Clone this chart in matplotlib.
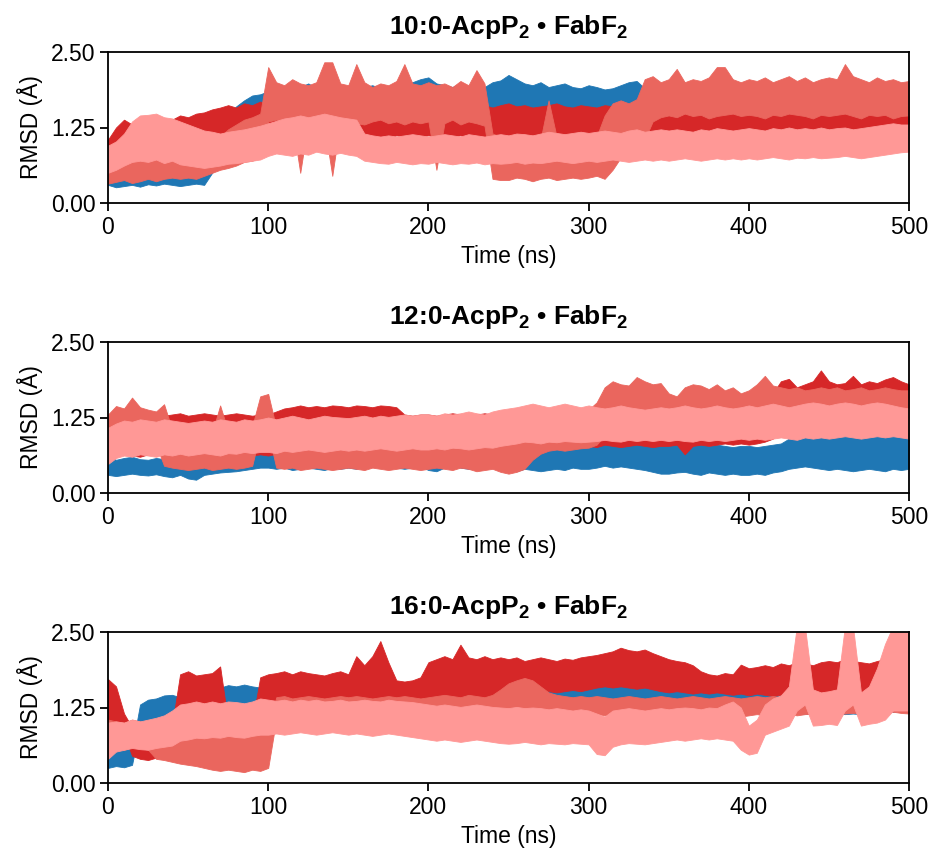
import numpy as np
import matplotlib
matplotlib.use("Agg")
import matplotlib.pyplot as plt

plt.rcParams['font.family'] = ['Liberation Sans', 'DejaVu Sans']
plt.rcParams['mathtext.fontset'] = 'custom'
plt.rcParams['mathtext.rm'] = 'Liberation Sans'
plt.rcParams['mathtext.bf'] = 'Liberation Sans:bold'

# Time axis (ns), sampled every 5 ns
time_ns = np.arange(0, 501, 5)

titles = [r"10:0-AcpP$_\mathbf{2}$ • FabF$_\mathbf{2}$",
          r"12:0-AcpP$_\mathbf{2}$ • FabF$_\mathbf{2}$",
          r"16:0-AcpP$_\mathbf{2}$ • FabF$_\mathbf{2}$"]
colors = ["#1f77b4", "#d62728", "#ea665e", "#ff9896"]
yticks = [0.0, 1.25, 2.5]
ytick_labels = ["0.00", "1.25", "2.50"]
xticks = [0, 100, 200, 300, 400, 500]

# ---- 10:0 system: lower / upper RMSD envelope of each trace (Å) ----
b1_lo = [0.30,0.26,0.28,0.30,0.27,0.31,0.29,0.32,0.30,0.28,
         0.30,0.32,0.30,0.50,0.70,0.85,0.95,1.00,1.05,1.05,
         1.15,1.20,1.15,1.18,1.20,1.15,1.12,1.18,1.15,1.20,
         1.20,1.18,1.15,1.20,1.22,1.18,1.20,1.22,1.20,1.25,
         1.22,1.20,1.18,1.22,1.20,1.25,1.22,1.20,1.18,1.20,
         1.22,1.20,1.18,1.20,1.22,1.18,1.20,1.15,1.18,1.20,
         1.18,1.20,1.22,1.18,1.15,1.20,1.18,1.22,1.20,1.18,
         1.15,1.18,1.20,1.18,1.15,1.20,1.18,1.15,1.20,1.18,
         1.15,1.20,1.18,1.15,1.20,1.18,1.22,1.18,1.20,1.15,
         1.18,1.20,1.15,1.18,1.22,1.20,1.18,1.15,1.20,1.22,
         1.20]
b1_hi = [0.55,0.62,0.58,0.65,0.70,0.62,0.72,0.66,0.70,0.75,
         0.68,0.64,0.72,1.20,1.35,1.45,1.60,1.70,1.78,1.80,
         1.85,1.90,1.88,1.95,1.92,1.98,1.90,1.88,1.92,1.85,
         1.90,1.88,1.92,1.95,1.90,1.88,1.95,1.98,2.00,2.05,
         2.08,1.98,1.95,1.92,1.98,1.90,1.95,1.92,2.00,2.03,
         2.12,2.05,1.98,1.95,2.00,1.92,1.95,1.98,1.92,1.90,
         1.95,1.92,1.88,1.90,1.95,2.00,2.02,1.90,1.85,1.88,
         1.85,1.82,1.80,1.85,1.82,1.78,1.80,1.85,1.82,1.80,
         1.82,1.85,1.88,1.92,1.90,1.85,1.80,1.82,1.80,1.85,
         1.82,1.80,1.85,1.82,1.88,1.85,1.80,1.82,1.85,1.82,
         1.80]
r1_lo = [0.62,0.78,0.85,0.88,0.90,0.92,0.90,0.95,0.98,1.00,
         1.00,1.02,1.05,1.05,1.08,1.10,1.12,1.12,1.15,1.15,
         1.10,1.12,1.08,1.10,1.12,1.10,1.08,1.12,1.10,1.08,
         1.10,1.12,1.08,1.05,1.10,1.08,1.12,1.10,1.08,1.10,
         1.12,1.10,1.08,1.10,1.12,1.08,1.10,1.05,1.08,1.10,
         1.08,1.10,1.12,1.08,1.10,1.05,1.08,1.10,1.12,1.08,
         1.10,1.08,1.05,1.08,1.10,1.12,1.08,1.10,1.05,1.08,
         1.10,1.08,1.12,1.10,1.08,1.05,1.10,1.08,1.12,1.10,
         1.08,1.10,1.05,1.08,1.10,1.12,1.08,1.10,1.05,1.08,
         1.10,1.08,1.12,1.10,1.05,1.08,1.10,1.12,1.10,1.15,
         1.12]
r1_hi = [1.05,1.25,1.38,1.30,1.32,1.36,1.42,1.40,1.38,1.45,
         1.42,1.48,1.50,1.55,1.58,1.62,1.58,1.65,1.62,1.68,
         1.62,1.58,1.60,1.62,1.58,1.65,1.60,1.58,1.62,1.60,
         1.58,1.62,1.60,1.65,1.58,1.60,1.62,1.58,1.60,1.62,
         1.60,1.58,1.62,1.60,1.65,1.58,1.60,1.62,1.58,1.62,
         1.65,1.60,1.62,1.58,1.60,1.62,1.65,1.60,1.58,1.62,
         1.60,1.58,1.62,1.60,1.62,1.58,1.60,1.62,1.58,1.55,
         1.58,1.55,1.60,1.58,1.55,1.58,1.60,1.55,1.58,1.55,
         1.55,1.58,1.60,1.55,1.58,1.55,1.52,1.58,1.55,1.58,
         1.55,1.58,1.55,1.60,1.58,1.55,1.52,1.58,1.55,1.52,
         1.50]
s1_lo = [0.32,0.35,0.38,0.33,0.36,0.40,0.36,0.40,0.42,0.40,
         0.42,0.40,0.45,0.50,0.55,0.58,0.62,0.68,0.70,0.75,
         1.35,1.38,1.32,1.36,0.50,1.35,1.38,1.30,0.45,1.35,
         1.36,1.32,1.30,1.35,1.38,1.32,1.35,1.30,1.35,1.32,
         1.35,0.55,1.32,1.38,1.30,1.35,1.32,1.28,0.40,0.38,
         0.38,0.42,0.40,0.36,0.40,0.42,0.38,0.40,0.42,0.40,
         0.42,0.45,0.40,0.55,0.75,0.85,0.90,1.05,1.35,1.42,
         1.45,1.42,1.48,1.44,1.46,1.40,1.44,1.46,1.48,1.44,
         1.46,1.44,1.40,1.46,1.44,1.48,1.46,1.44,1.40,1.46,
         1.44,1.46,1.48,1.44,1.40,1.46,1.44,1.46,1.40,1.44,
         1.45]
s1_hi = [0.78,0.88,0.92,0.95,1.00,0.98,0.92,1.02,1.05,0.98,
         0.95,0.92,0.90,1.00,1.10,1.22,1.30,1.38,1.42,1.48,
         2.25,2.00,1.95,2.05,1.98,1.95,2.00,2.33,2.33,1.98,
         1.95,2.30,2.00,1.92,1.98,1.95,2.02,2.30,1.98,1.95,
         2.00,1.95,1.98,1.92,2.02,1.95,2.20,1.98,1.15,1.10,
         1.05,1.10,1.08,1.12,1.05,1.70,1.10,1.08,1.12,1.10,
         1.15,1.10,1.45,1.65,1.70,1.65,1.72,2.05,2.10,2.00,
         2.05,2.22,2.00,2.05,2.02,2.08,2.25,2.25,2.05,2.00,
         2.05,2.02,2.08,2.00,2.05,2.10,2.02,2.08,2.00,2.05,
         2.08,2.05,2.30,2.10,2.05,2.00,2.08,2.02,2.05,2.00,
         2.02]
p1_lo = [0.50,0.55,0.62,0.68,0.70,0.68,0.72,0.66,0.70,0.64,
         0.62,0.60,0.58,0.60,0.62,0.65,0.66,0.68,0.70,0.72,
         0.78,0.82,0.80,0.78,0.82,0.80,0.85,0.82,0.80,0.83,
         0.80,0.78,0.70,0.68,0.66,0.65,0.68,0.66,0.64,0.66,
         0.65,0.68,0.66,0.64,0.66,0.65,0.67,0.64,0.66,0.65,
         0.66,0.68,0.65,0.67,0.66,0.68,0.70,0.68,0.66,0.68,
         0.70,0.68,0.70,0.72,0.70,0.68,0.70,0.72,0.70,0.72,
         0.70,0.72,0.74,0.72,0.70,0.72,0.74,0.72,0.74,0.72,
         0.74,0.72,0.74,0.76,0.74,0.72,0.75,0.74,0.76,0.74,
         0.75,0.76,0.78,0.76,0.74,0.76,0.78,0.80,0.82,0.84,
         0.85]
p1_hi = [0.95,1.02,1.15,1.35,1.45,1.46,1.48,1.42,1.40,1.35,
         1.30,1.25,1.20,1.18,1.15,1.18,1.20,1.22,1.25,1.28,
         1.32,1.36,1.40,1.42,1.45,1.42,1.45,1.48,1.45,1.42,
         1.40,1.38,1.15,1.12,1.10,1.12,1.10,1.12,1.14,1.12,
         1.10,1.12,1.14,1.12,1.10,1.14,1.12,1.10,1.12,1.14,
         1.12,1.15,1.14,1.12,1.15,1.18,1.16,1.14,1.16,1.18,
         1.16,1.18,1.20,1.18,1.16,1.20,1.22,1.18,1.20,1.22,
         1.20,1.22,1.20,1.18,1.22,1.20,1.24,1.22,1.20,1.22,
         1.24,1.22,1.20,1.24,1.22,1.25,1.22,1.24,1.22,1.25,
         1.22,1.24,1.25,1.22,1.24,1.26,1.28,1.30,1.32,1.30,
         1.30]

# ---- 12:0 system ----
b2_lo = [0.30,0.28,0.30,0.32,0.30,0.29,0.31,0.28,0.26,0.30,
         0.24,0.22,0.30,0.32,0.34,0.35,0.36,0.38,0.40,0.42,
         0.42,0.40,0.42,0.38,0.40,0.42,0.40,0.38,0.42,0.40,
         0.42,0.40,0.44,0.45,0.48,0.45,0.42,0.40,0.42,0.44,
         0.38,0.36,0.42,0.45,0.42,0.40,0.42,0.45,0.42,0.40,
         0.38,0.36,0.40,0.38,0.36,0.38,0.40,0.38,0.42,0.40,
         0.40,0.42,0.45,0.42,0.44,0.42,0.40,0.38,0.35,0.32,
         0.32,0.34,0.35,0.32,0.30,0.34,0.32,0.30,0.32,0.30,
         0.30,0.32,0.30,0.34,0.36,0.40,0.42,0.44,0.42,0.40,
         0.38,0.40,0.38,0.36,0.38,0.40,0.38,0.36,0.40,0.38,
         0.40]
b2_hi = [0.62,0.55,0.58,0.60,0.56,0.55,0.58,0.56,0.58,0.60,
         0.55,0.56,0.58,0.60,0.65,0.66,0.70,0.72,0.70,0.76,
         0.74,0.72,0.70,0.72,0.70,0.72,0.68,0.70,0.72,0.74,
         0.72,0.70,0.74,0.78,0.80,0.76,0.72,0.70,0.74,0.76,
         0.78,0.86,0.80,0.76,0.74,0.72,0.75,0.78,0.80,0.76,
         0.74,0.76,0.80,0.85,0.88,0.90,0.92,0.88,0.90,0.92,
         0.90,0.95,0.97,0.94,0.92,0.90,0.92,0.90,0.88,0.86,
         0.88,0.86,0.84,0.80,0.82,0.78,0.80,0.78,0.76,0.78,
         0.78,0.76,0.78,0.80,0.82,0.90,0.98,1.05,1.08,1.02,
         1.00,0.98,1.03,1.00,0.98,0.95,1.00,0.98,0.96,0.94,
         0.92]
r2_lo = [0.60,0.62,0.65,0.62,0.60,0.64,0.62,0.65,0.60,0.62,
         0.60,0.62,0.65,0.62,0.64,0.60,0.62,0.65,0.62,0.64,
         0.62,0.65,0.80,0.95,1.00,1.02,1.00,1.04,1.02,1.00,
         1.02,1.00,1.04,1.02,1.00,1.02,1.00,0.75,0.70,0.72,
         0.70,0.72,0.70,0.72,0.68,0.70,0.72,0.70,0.72,0.70,
         0.72,0.75,0.74,0.76,0.75,0.78,0.76,0.75,0.78,0.76,
         0.78,0.76,0.80,0.78,0.76,0.78,0.80,0.78,0.76,0.78,
         0.78,0.80,0.64,0.78,0.80,0.78,0.80,0.82,0.80,0.82,
         0.80,0.82,0.85,0.90,1.05,1.10,1.12,1.10,1.12,1.10,
         1.12,1.10,1.12,1.14,1.12,1.10,1.12,1.14,1.12,1.15,
         1.15]
r2_hi = [1.25,1.30,1.32,1.28,1.30,1.32,1.30,1.28,1.30,1.32,
         1.28,1.30,1.32,1.30,1.28,1.30,1.32,1.30,1.28,1.30,
         1.30,1.35,1.40,1.42,1.45,1.42,1.44,1.42,1.45,1.44,
         1.42,1.45,1.44,1.42,1.45,1.44,1.42,1.30,1.28,1.30,
         1.30,1.28,1.30,1.32,1.30,1.28,1.30,1.32,1.30,1.32,
         1.32,1.35,1.32,1.35,1.33,1.35,1.34,1.32,1.35,1.34,
         1.35,1.33,1.35,1.34,1.36,1.35,1.34,1.36,1.35,1.38,
         1.36,1.38,1.36,1.38,1.40,1.38,1.40,1.42,1.40,1.42,
         1.42,1.45,1.50,1.65,1.85,1.89,1.75,1.80,1.85,2.03,
         1.85,1.80,1.82,1.94,1.80,1.85,1.82,1.88,1.92,1.85,
         1.80]
s2_lo = [0.70,0.75,0.78,0.80,0.76,0.78,0.80,0.45,0.42,0.40,
         0.38,0.40,0.42,0.38,0.40,0.42,0.40,0.42,0.45,1.00,
         1.00,0.42,0.40,0.42,0.38,0.40,0.42,0.40,0.38,0.40,
         0.42,0.40,0.38,0.42,0.40,0.38,0.40,0.42,0.40,0.38,
         0.40,0.42,0.40,0.38,0.42,0.40,0.36,0.38,0.40,0.35,
         0.32,0.35,0.40,0.55,0.65,0.70,0.72,0.70,0.72,0.74,
         0.75,0.80,0.95,1.15,1.18,1.15,1.18,1.20,1.18,1.15,
         1.18,1.15,1.12,1.14,1.12,1.15,1.12,1.14,1.10,1.12,
         1.10,1.15,1.18,1.15,1.18,1.20,1.18,1.15,1.18,1.20,
         1.18,1.20,1.18,1.15,1.18,1.20,1.18,1.15,1.18,1.20,
         1.18]
s2_hi = [1.30,1.44,1.40,1.58,1.42,1.38,1.35,1.47,1.05,1.00,
         1.00,0.98,1.02,1.00,1.45,1.02,1.00,1.05,1.10,1.60,
         1.64,1.08,1.05,1.02,1.00,1.05,1.02,1.05,1.00,1.05,
         1.02,1.05,1.00,1.02,1.05,1.00,1.02,1.05,1.02,1.00,
         1.02,1.05,1.00,1.02,1.05,1.02,1.00,1.05,1.02,1.05,
         1.05,1.08,1.12,1.25,1.30,1.32,1.35,1.30,1.32,1.35,
         1.38,1.50,1.75,1.85,1.80,1.78,1.92,1.85,1.80,1.82,
         1.65,1.60,1.75,1.80,1.78,1.72,1.80,1.70,1.75,1.65,
         1.70,1.80,1.94,1.78,1.75,1.72,1.75,1.70,1.72,1.75,
         1.72,1.75,1.70,1.72,1.75,1.70,1.72,1.75,1.72,1.70,
         1.70]
p2_lo = [0.48,0.58,0.62,0.60,0.64,0.62,0.60,0.64,0.62,0.65,
         0.62,0.64,0.66,0.64,0.62,0.66,0.65,0.68,0.66,0.68,
         0.68,0.66,0.70,0.68,0.70,0.72,0.70,0.68,0.70,0.72,
         0.70,0.72,0.70,0.72,0.74,0.72,0.70,0.72,0.74,0.72,
         0.72,0.74,0.72,0.75,0.74,0.72,0.74,0.76,0.75,0.78,
         0.80,0.82,0.85,0.84,0.82,0.85,0.84,0.86,0.85,0.84,
         0.85,0.86,0.88,0.86,0.85,0.88,0.86,0.88,0.86,0.88,
         0.86,0.88,0.86,0.85,0.88,0.86,0.88,0.86,0.88,0.90,
         0.88,0.90,0.88,0.90,0.92,0.90,0.88,0.92,0.90,0.92,
         0.90,0.92,0.94,0.92,0.90,0.92,0.94,0.92,0.94,0.92,
         0.90]
p2_hi = [1.08,1.15,1.20,1.18,1.22,1.20,1.18,1.22,1.20,1.18,
         1.16,1.18,1.20,1.18,1.22,1.20,1.18,1.22,1.20,1.22,
         1.25,1.22,1.25,1.28,1.25,1.22,1.25,1.28,1.26,1.25,
         1.24,1.26,1.28,1.25,1.28,1.26,1.28,1.30,1.28,1.30,
         1.30,1.28,1.32,1.30,1.32,1.35,1.32,1.30,1.35,1.38,
         1.40,1.42,1.45,1.48,1.45,1.42,1.45,1.48,1.45,1.42,
         1.45,1.42,1.40,1.42,1.45,1.42,1.40,1.38,1.40,1.42,
         1.40,1.42,1.45,1.42,1.40,1.42,1.45,1.42,1.40,1.42,
         1.45,1.42,1.45,1.48,1.45,1.42,1.45,1.48,1.50,1.48,
         1.45,1.48,1.50,1.48,1.45,1.48,1.50,1.48,1.45,1.42,
         1.40]

# ---- 16:0 system ----
b3_lo = [0.25,0.28,0.26,0.30,0.95,0.98,1.00,1.02,1.05,1.08,
         1.10,1.08,1.10,1.12,1.15,1.20,1.22,1.24,1.25,1.22,
         1.20,1.18,1.20,1.22,1.18,1.20,1.22,1.20,1.18,1.22,
         1.20,1.22,1.24,1.22,1.20,1.22,1.24,1.22,1.24,1.25,
         1.24,1.25,1.26,1.24,1.25,1.26,1.24,1.25,1.26,1.28,
         1.28,1.30,1.28,1.30,1.32,1.30,1.28,1.30,1.32,1.30,
         1.32,1.35,1.34,1.35,1.36,1.35,1.34,1.32,1.30,1.30,
         1.30,1.28,1.30,1.28,1.30,1.28,1.26,1.28,1.26,1.25,
         1.22,1.20,1.18,1.15,1.14,1.15,1.14,1.15,1.14,1.15,
         1.14,1.15,1.14,1.15,1.14,1.15,1.16,1.15,1.18,1.20,
         1.22]
b3_hi = [0.80,0.58,0.55,0.58,1.30,1.38,1.40,1.45,1.46,1.42,
         1.45,1.48,1.50,1.52,1.58,1.62,1.60,1.63,1.60,1.58,
         1.58,1.60,1.62,1.60,1.63,1.60,1.62,1.58,1.60,1.58,
         1.58,1.60,1.58,1.60,1.58,1.60,1.58,1.56,1.58,1.60,
         1.58,1.56,1.58,1.60,1.68,1.58,1.56,1.58,1.56,1.58,
         1.60,1.62,1.60,1.62,1.60,1.62,1.64,1.62,1.60,1.62,
         1.64,1.70,1.72,1.70,1.68,1.72,1.70,1.68,1.70,1.65,
         1.60,1.58,1.55,1.56,1.54,1.55,1.54,1.55,1.54,1.55,
         1.52,1.50,1.48,1.46,1.45,1.46,1.45,1.46,1.45,1.46,
         1.45,1.46,1.45,1.46,1.45,1.46,1.48,1.50,1.55,1.57,
         1.55]
r3_lo = [0.62,0.85,0.80,0.45,0.40,0.38,0.42,0.40,0.38,1.15,
         1.18,1.20,1.22,1.18,1.22,0.50,0.48,0.50,0.52,1.30,
         1.32,1.30,1.28,1.30,1.32,1.30,1.28,1.30,1.32,1.30,
         1.30,1.32,1.35,1.38,1.40,1.35,1.20,1.18,1.20,1.22,
         1.35,1.38,1.40,1.38,1.36,1.38,1.40,1.38,1.45,1.48,
         1.50,1.52,1.50,1.52,1.50,1.52,1.50,1.52,1.54,1.52,
         1.55,1.58,1.60,1.58,1.60,1.58,1.56,1.58,1.55,1.52,
         1.50,1.52,1.50,1.48,1.50,1.48,1.50,1.48,1.46,1.48,
         1.45,1.48,1.46,1.44,1.46,1.48,1.46,1.44,1.46,1.44,
         1.46,1.44,1.46,1.48,1.46,1.44,1.46,1.48,1.46,1.44,
         1.46]
r3_hi = [1.72,1.60,1.15,0.92,0.88,0.85,0.90,0.92,0.95,1.80,
         1.85,1.78,1.80,1.82,1.93,1.00,0.96,0.95,1.00,1.75,
         1.80,1.82,1.85,1.80,1.85,1.82,1.80,1.78,1.82,1.85,
         1.80,2.10,1.95,2.10,2.35,2.00,1.70,1.68,1.70,1.75,
         2.00,2.05,2.10,2.05,2.29,2.08,2.05,2.10,2.05,2.08,
         2.05,2.08,2.02,2.05,2.08,2.05,2.02,2.06,2.04,2.08,
         2.10,2.12,2.15,2.18,2.24,2.20,2.18,2.21,2.15,2.10,
         2.05,2.02,2.00,1.95,1.85,1.80,1.78,1.82,1.80,1.96,
         1.90,1.92,1.95,1.92,1.98,1.95,2.00,1.98,1.95,2.00,
         2.02,2.00,2.05,2.02,2.00,1.98,2.02,2.05,2.00,2.02,
         2.00]
s3_lo = [0.55,0.58,0.55,0.60,0.58,0.55,0.40,0.38,0.35,0.32,
         0.30,0.28,0.25,0.22,0.20,0.22,0.20,0.18,0.22,0.20,
         0.25,1.05,1.08,1.05,1.08,1.10,1.08,1.05,1.08,1.10,
         1.08,1.10,1.08,1.10,1.12,1.10,1.08,1.10,1.12,1.10,
         1.12,1.10,1.12,1.14,1.12,1.10,1.12,1.14,1.12,1.14,
         1.15,1.18,1.20,1.22,1.20,1.18,1.15,1.14,1.12,1.14,
         1.12,1.14,1.12,1.14,1.12,1.14,1.12,1.10,1.12,1.14,
         1.12,1.14,1.12,1.10,1.12,1.14,1.12,1.10,1.12,1.10,
         1.12,1.14,1.12,1.14,1.15,1.14,1.12,1.14,1.15,1.14,
         1.15,1.14,1.15,1.16,1.15,1.14,1.15,1.16,1.18,1.16,
         1.15]
s3_hi = [1.05,1.02,1.00,1.05,1.02,1.00,0.98,0.96,0.95,0.96,
         0.94,0.96,0.92,0.85,0.82,0.84,0.80,0.82,0.85,0.82,
         0.85,1.42,1.44,1.40,1.42,1.44,1.42,1.40,1.42,1.44,
         1.42,1.44,1.42,1.40,1.42,1.44,1.42,1.44,1.42,1.40,
         1.42,1.44,1.46,1.44,1.42,1.46,1.44,1.42,1.46,1.55,
         1.65,1.70,1.74,1.70,1.60,1.50,1.46,1.44,1.42,1.44,
         1.42,1.44,1.42,1.40,1.42,1.44,1.42,1.40,1.42,1.44,
         1.42,1.40,1.42,1.44,1.42,1.40,1.42,1.44,1.42,1.40,
         1.42,1.44,1.42,1.44,1.42,1.44,1.42,1.40,1.42,1.44,
         1.42,1.44,1.42,1.40,1.42,1.44,1.42,1.40,1.42,1.42,
         1.40]
p3_lo = [0.40,0.52,0.55,0.58,0.56,0.55,0.58,0.60,0.62,0.70,
         0.72,0.75,0.74,0.76,0.75,0.78,0.76,0.75,0.78,0.80,
         0.80,0.82,0.80,0.82,0.84,0.82,0.80,0.82,0.84,0.82,
         0.80,0.82,0.80,0.78,0.80,0.82,0.80,0.78,0.76,0.74,
         0.72,0.70,0.72,0.70,0.68,0.70,0.72,0.70,0.68,0.66,
         0.65,0.66,0.68,0.66,0.64,0.66,0.65,0.64,0.66,0.65,
         0.64,0.48,0.46,0.60,0.64,0.66,0.65,0.64,0.66,0.68,
         0.70,0.72,0.70,0.72,0.74,0.72,0.74,0.72,0.70,0.55,
         0.47,0.50,0.80,0.85,0.90,0.95,1.20,1.30,0.95,0.96,
         0.98,0.96,1.20,1.30,0.95,0.98,1.00,1.05,1.20,1.20,
         1.20]
p3_hi = [1.00,1.02,1.00,1.05,1.02,1.05,1.08,1.12,1.20,1.30,
         1.32,1.35,1.32,1.35,1.32,1.35,1.34,1.32,1.35,1.40,
         1.38,1.36,1.38,1.35,1.38,1.36,1.38,1.35,1.36,1.38,
         1.35,1.36,1.38,1.36,1.35,1.38,1.36,1.35,1.34,1.32,
         1.30,1.28,1.30,1.28,1.26,1.28,1.30,1.28,1.26,1.25,
         1.24,1.26,1.24,1.25,1.24,1.22,1.24,1.22,1.20,1.22,
         1.20,1.15,1.10,1.20,1.22,1.24,1.22,1.20,1.22,1.24,
         1.22,1.24,1.25,1.24,1.22,1.25,1.24,1.30,1.35,1.25,
         0.95,1.05,1.30,1.40,1.45,1.60,2.60,2.60,1.55,1.50,
         1.52,1.55,2.60,2.60,1.50,1.60,1.90,2.30,2.60,2.60,
         2.60]

panels = [
    [(b1_lo, b1_hi), (r1_lo, r1_hi), (s1_lo, s1_hi), (p1_lo, p1_hi)],
    [(b2_lo, b2_hi), (r2_lo, r2_hi), (s2_lo, s2_hi), (p2_lo, p2_hi)],
    [(b3_lo, b3_hi), (r3_lo, r3_hi), (s3_lo, s3_hi), (p3_lo, p3_hi)],
]

fig = plt.figure(figsize=(9.36, 8.52), dpi=100)
left, width, height = 108 / 936, 801 / 936, 151 / 852
bottoms = [1 - 203 / 852, 1 - 493 / 852, 1 - 783 / 852]

for title, series, bottom in zip(titles, panels, bottoms):
    ax = fig.add_axes([left, bottom, width, height])
    for (lo, hi), c in zip(series, colors):
        ax.fill_between(time_ns, lo, hi, color=c, lw=0.6, edgecolor=c)
    ax.set_xlim(0, 500)
    ax.set_ylim(0, 2.5)
    ax.set_xticks(xticks)
    ax.set_yticks(yticks)
    ax.set_yticklabels(ytick_labels)
    ax.tick_params(direction='out', length=6, width=1.3, labelsize=16.5, pad=3)
    for sp in ax.spines.values():
        sp.set_linewidth(1.3)
    ax.set_xlabel("Time (ns)", fontsize=16.5, labelpad=5)
    ax.set_ylabel("RMSD (Å)", fontsize=16.5, labelpad=6)
    ax.set_title(title, fontsize=19, fontweight='bold', pad=13)

fig.savefig("out.png", dpi=100)
